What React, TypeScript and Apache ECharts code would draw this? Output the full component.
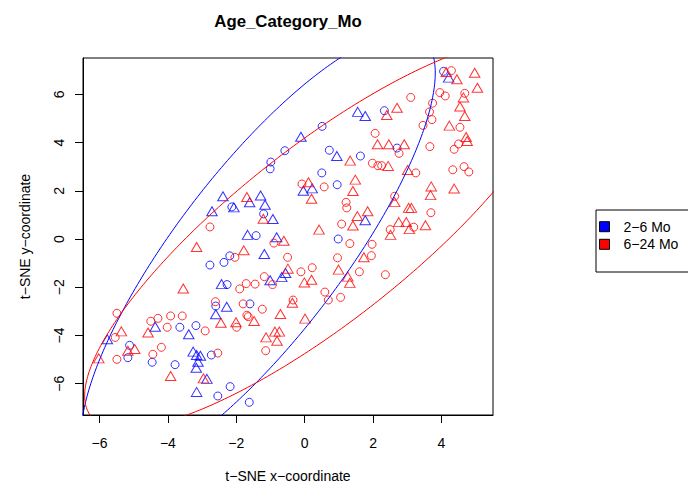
import React, { useEffect, useRef } from "react";
import * as echarts from "echarts";

const FONT = "'Liberation Sans', Arial, Helvetica, sans-serif";

const chartTitle = "Age_Category_Mo";
const xTitle = "t\u2212SNE x\u2212coordinate";
const yTitle = "t\u2212SNE y\u2212coordinate";
const groupNames = ["2\u22126 Mo", "6\u221224 Mo"];
const groupColors = ["#0000FF", "#FF0000"];

const xTicks = [-6, -4, -2, 0, 2, 4];
const yTicks = [-6, -4, -2, 0, 2, 4, 6];
const xRange = [-6.482, 5.506];
const yRange = [-7.297, 7.504];

const blueCircles: [number, number][] = [
  [0.51, 4.67], [-0.58, 3.66], [0.72, 3.68], [-0.99, 3.19], [-1.01, 2.91], [0.5, 2.74],
  [4.06, 6.95], [2.33, 5.32], [2.7, 3.77], [1.63, 3.44], [-2.77, -1.08], [0.95, 2.25],
  [-2.13, 1.33], [-1.2, 1.04], [-1.42, 0.14], [0.98, 0.0], [-2.19, -0.7], [-2.36, -0.97],
  [-2.27, -1.89], [-3.65, -3.66], [-3.18, -3.59], [-5.12, -4.41], [-5.17, -4.92], [-4.46, -5.11],
  [-3.79, -5.21], [-2.73, -4.81], [-2.54, -6.51], [-2.6, -2.78], [-1.6, -2.69], [-2.18, -6.12],
  [-1.62, -6.77],
];

const blueTriangles: [number, number][] = [
  [-0.11, 4.24], [0.94, 3.44], [4.21, 6.69], [1.55, 5.27], [1.77, 5.1], [-2.71, 1.15],
  [-2.43, -1.87], [-0.04, 2.0], [0.22, 2.1], [-2.39, 1.77], [-1.61, 1.52], [-1.29, 1.8],
  [-1.16, 1.42], [-2.07, 1.31], [-0.93, 0.83], [-1.67, 0.17], [-0.82, 0.07], [-1.18, -0.62],
  [-0.56, -1.41], [-0.67, -1.58], [-1.01, -1.71], [1.77, 0.78], [-4.37, -3.64], [-3.39, -3.95],
  [-5.77, -4.16], [-3.26, -4.67], [-3.16, -4.81], [-3.05, -4.84], [-3.12, -5.09], [-3.17, -5.34],
  [-2.86, -5.8], [-3.16, -6.34], [-2.6, -3.12], [-2.28, -2.81],
];

const redCircles: [number, number][] = [
  [4.29, 6.98], [3.95, 6.07], [4.11, 5.93], [4.68, 6.04], [3.1, 5.87], [3.74, 5.63],
  [3.65, 5.27], [3.72, 4.95], [3.46, 4.71], [4.54, 4.63], [2.06, 4.38], [4.5, 3.94],
  [4.37, 3.72], [2.76, 3.55], [3.66, 3.83], [1.98, 3.14], [2.14, 3.04], [2.25, 3.04],
  [3.25, 2.74], [4.33, 2.87], [4.66, 3.0], [4.8, 2.78], [-2.77, 0.5], [-0.08, 2.28],
  [0.57, 2.16], [1.21, 1.52], [1.23, 1.29], [-0.9, -0.17], [1.08, 0.62], [1.32, -0.19],
  [-2.04, -0.76], [-0.5, -0.76], [0.96, -0.78], [0.22, -1.19], [-0.11, -1.36], [-1.18, -1.56],
  [-0.94, -1.89], [-1.71, -1.85], [-1.45, -1.87], [-1.9, -2.07], [0.59, -2.2], [2.63, 1.77],
  [3.69, 1.09], [3.19, 0.49], [2.5, 0.39], [1.97, -0.22], [1.95, -0.69], [1.6, -1.36],
  [2.36, -1.48], [-5.49, -3.08], [-4.5, -3.41], [-4.29, -3.29], [-3.92, -3.19], [-3.58, -3.19],
  [-4.02, -3.66], [-2.91, -3.81], [-5.54, -4.08], [-4.19, -4.49], [-4.44, -4.78], [-5.49, -4.99],
  [-2.54, -4.73], [-2.61, -2.6], [-1.8, -2.69], [-1.24, -2.91], [-1.69, -3.16], [-1.65, -3.22],
  [-1.99, -3.66], [-0.34, -2.53], [0.69, -2.53], [1.05, -2.42], [-1.14, -4.63],
];

const redTriangles: [number, number][] = [
  [1.33, 3.25], [4.14, 6.92], [4.45, 6.62], [4.97, 6.89], [5.05, 6.27], [4.64, 5.87],
  [2.7, 5.44], [2.4, 5.14], [4.54, 5.49], [4.68, 5.1], [4.23, 4.7], [4.72, 4.23],
  [4.75, 4.06], [2.13, 3.93], [2.46, 3.93], [2.91, 3.93], [2.44, 3.03], [3.01, 2.86],
  [-3.16, -0.33], [-3.55, -2.05], [0.11, 2.35], [0.2, 1.67], [-1.69, 1.74], [-1.21, 0.84],
  [-0.61, -0.07], [0.42, 0.39], [1.41, 0.56], [-1.78, -0.47], [-0.49, -1.23], [0.99, -1.27],
  [1.26, -1.56], [1.32, -1.82], [-0.01, -1.8], [0.2, -1.69], [1.48, 2.46], [1.41, 1.99],
  [3.7, 2.18], [3.68, 1.82], [4.37, 2.09], [2.63, 1.53], [3.04, 1.29], [3.12, 1.29],
  [1.84, 1.15], [1.54, 0.95], [2.75, 0.7], [2.97, 0.7], [3.06, 0.41], [3.53, 0.57],
  [2.51, 0.17], [1.73, -0.76], [-4.58, -3.88], [-5.36, -3.83], [-5.17, -4.63], [-4.97, -4.56],
  [-6.02, -4.95], [-3.92, -5.68], [-2.96, -5.78], [-1.48, -3.4], [-2.45, -3.47], [-2.01, -3.45],
  [-0.71, -3.11], [-0.36, -2.64], [0.01, -3.3], [-1.13, -4.08], [-0.87, -3.84], [-0.74, -3.84],
  [-0.81, -4.22],
];

// ellipse parameters: centre, slope of the horizontal-chord midpoint line, half width, half height
const blueEllipse = { cx: -1.36, cy: -0.62, slope: 0.463, halfWidth: 2.97, halfHeight: 9.16 };
const redEllipse = { cx: 0.5, cy: 0.2, slope: 0.715, halfWidth: 3.856, halfHeight: 8.06 };

function ellipsePoints(e: { cx: number; cy: number; slope: number; halfWidth: number; halfHeight: number }) {
  const pts: [number, number][] = [];
  const n = 360;
  for (let i = 0; i <= n; i++) {
    const t = (i / n) * Math.PI * 2;
    const s = Math.sin(t);
    const c = Math.cos(t);
    pts.push([e.cx + e.slope * e.halfHeight * s + e.halfWidth * c, e.cy + e.halfHeight * s]);
  }
  return pts;
}

const minus = (v: number) => String(v).replace("-", "\u2212");

export default function App() {
  const ref = useRef<HTMLDivElement>(null);
  useEffect(() => {
    if (!ref.current) return;
    const chart = echarts.init(ref.current, undefined, { renderer: "svg" });
    const hollow = (color: string) => ({ color: "rgba(0,0,0,0)", borderColor: color, borderWidth: 1 });
    const textBase = { fontFamily: FONT, color: "#000", fontSize: 14 };
    chart.setOption({
      animation: false,
      backgroundColor: "#fff",
      title: {
        text: chartTitle,
        left: 288,
        top: 13,
        textAlign: "center",
        padding: 0,
        textStyle: { fontFamily: FONT, fontSize: 16.8, fontWeight: "bold", color: "#000" },
      },
      grid: {
        left: 83, top: 58, width: 410, height: 357,
        outerBoundsMode: "none", containLabel: false,
        show: true, borderColor: "#000", borderWidth: 1, backgroundColor: "transparent",
      },
      legend: {
        orient: "vertical",
        left: 599,
        top: 218.7,
        padding: 0,
        itemWidth: 28,
        itemHeight: 10,
        itemGap: 1.6,
        selectedMode: false,
        textStyle: { ...textBase, lineHeight: 16, padding: 0 },
        data: groupNames.map((name, i) => ({
          name,
          icon: "path://M0,0L10,0L10,10L0,10Z",
          itemStyle: { color: groupColors[i], borderColor: "#000", borderWidth: 1, opacity: 1 },
        })),
      },
      graphic: [
        {
          type: "rect",
          shape: { x: 596, y: 210, width: 140, height: 62 },
          style: { fill: "none", stroke: "#000", lineWidth: 1 },
          silent: true,
        },
      ],
      xAxis: {
        type: "value",
        min: xRange[0],
        max: xRange[1],
        name: xTitle,
        nameLocation: "middle",
        nameGap: 54,
        nameTextStyle: textBase,
        axisLine: { show: true, onZero: false, lineStyle: { color: "#000", width: 1 } },
        axisTick: { show: true, length: 8, customValues: xTicks, lineStyle: { color: "#000" } },
        axisLabel: { ...textBase, customValues: xTicks, margin: 21, formatter: (v: number) => minus(v) },
        splitLine: { show: false },
      },
      yAxis: {
        type: "value",
        min: yRange[0],
        max: yRange[1],
        name: yTitle,
        nameLocation: "middle",
        nameGap: 51,
        nameTextStyle: textBase,
        axisLine: { show: true, onZero: false, lineStyle: { color: "#000", width: 1 } },
        axisTick: { show: true, length: 8, customValues: yTicks, lineStyle: { color: "#000" } },
        axisLabel: { ...textBase, customValues: yTicks, margin: 17, rotate: 90, formatter: (v: number) => minus(v) },
        splitLine: { show: false },
      },
      series: [
        { name: groupNames[0], type: "scatter", symbol: "circle", symbolSize: 8, data: blueCircles, itemStyle: hollow(groupColors[0]), silent: true },
        { name: groupNames[0], type: "scatter", symbol: "triangle", symbolSize: [10.5, 9], data: blueTriangles, itemStyle: hollow(groupColors[0]), silent: true },
        { name: groupNames[1], type: "scatter", symbol: "circle", symbolSize: 8, data: redCircles, itemStyle: hollow(groupColors[1]), silent: true },
        { name: groupNames[1], type: "scatter", symbol: "triangle", symbolSize: [10.5, 9], data: redTriangles, itemStyle: hollow(groupColors[1]), silent: true },
        { name: "blue ellipse", type: "line", data: ellipsePoints(blueEllipse), showSymbol: false, clip: true, silent: true, lineStyle: { color: groupColors[0], width: 1 } },
        { name: "red ellipse", type: "line", data: ellipsePoints(redEllipse), showSymbol: false, clip: true, silent: true, lineStyle: { color: groupColors[1], width: 1 } },
      ],
    });
    return () => chart.dispose();
  }, []);
  return <div ref={ref} style={{ position: "fixed", left: 0, top: 0, width: 688, height: 484, background: "#fff" }} />;
}
